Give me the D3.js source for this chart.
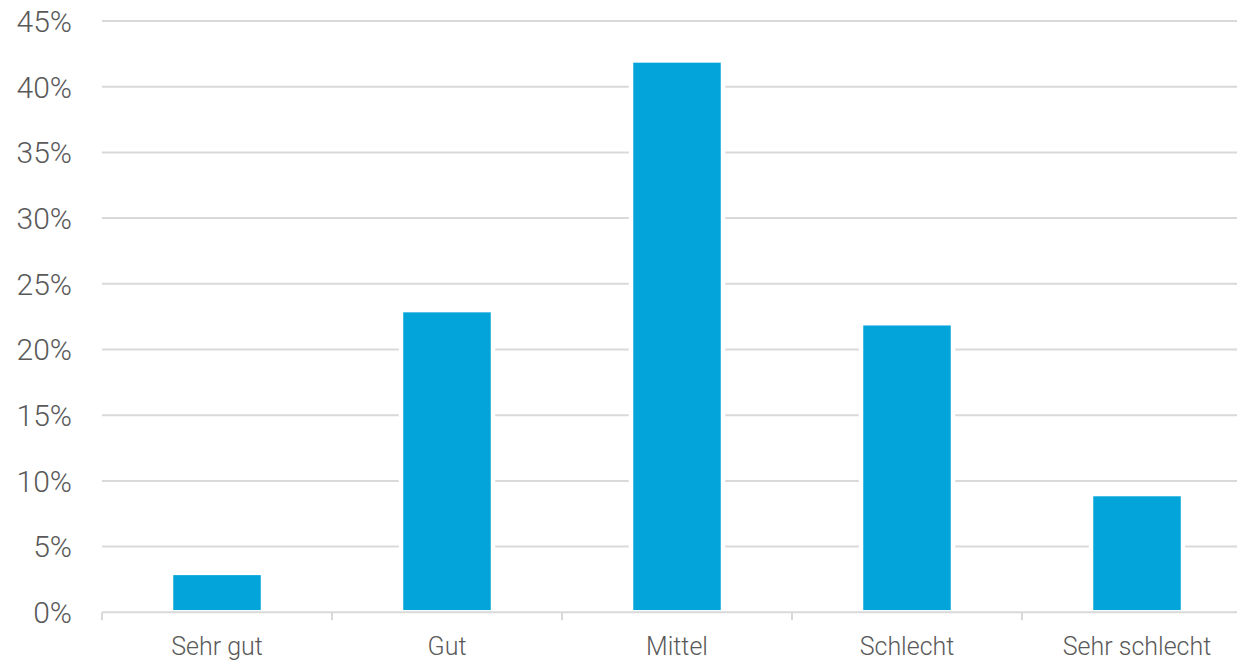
<!DOCTYPE html>
<html>
<head>
<meta charset="utf-8">
<script src="https://cdn.jsdelivr.net/npm/d3@7"></script>
<style>
  html, body { margin: 0; padding: 0; background: #ffffff; }
  svg { display: block; }
  .tick-label { font-family: Roboto, "Open Sans", sans-serif; font-weight: 300; fill: #595959; }
</style>
</head>
<body>
<svg id="chart" width="1237" height="661"></svg>
<script>
// Ratings and their share of responses
const categories = ["Sehr gut", "Gut", "Mittel", "Schlecht", "Sehr schlecht"];
const shares = [3, 23, 42, 22, 9];
const yTicks = [0, 5, 10, 15, 20, 25, 30, 35, 40, 45];

const svg = d3.select("#chart");
const plot = { left: 102, right: 1252, top: 21, bottom: 612.3 };

const x = d3.scaleBand()
  .domain(categories)
  .range([plot.left, plot.right])
  .paddingInner(0.6)
  .paddingOuter(0.3);

const y = d3.scaleLinear()
  .domain([0, 45])
  .range([plot.bottom, plot.top]);

// horizontal gridlines
svg.append("g")
  .selectAll("line")
  .data(yTicks.filter(d => d > 0))
  .join("line")
  .attr("x1", plot.left)
  .attr("x2", plot.right)
  .attr("y1", d => y(d))
  .attr("y2", d => y(d))
  .attr("stroke", "#d9d9d9")
  .attr("stroke-width", 2);

// y tick labels
svg.append("g")
  .selectAll("text")
  .data(yTicks)
  .join("text")
  .attr("class", "tick-label")
  .attr("x", 72)
  .attr("y", d => y(d))
  .attr("dy", "0.36em")
  .attr("text-anchor", "end")
  .style("font-size", "30px")
  .text(d => d + "%");

// bars
svg.append("g")
  .selectAll("rect")
  .data(shares)
  .join("rect")
  .attr("x", (d, i) => x(categories[i]))
  .attr("width", x.bandwidth())
  .attr("y", d => y(d))
  .attr("height", d => y(0) - y(d))
  .attr("fill", "#02a4da")
  .attr("stroke", "#ffffff")
  .attr("stroke-width", 4.5);

// category axis with downward ticks at band boundaries
const xAxis = svg.append("g");
xAxis.append("line")
  .attr("x1", plot.left)
  .attr("x2", plot.right)
  .attr("y1", plot.bottom)
  .attr("y2", plot.bottom)
  .attr("stroke", "#d9d9d9")
  .attr("stroke-width", 2);

xAxis.selectAll("line.tick")
  .data(categories)
  .join("line")
  .attr("class", "tick")
  .attr("x1", d => x(d) - x.step() * x.paddingInner() / 2)
  .attr("x2", d => x(d) - x.step() * x.paddingInner() / 2)
  .attr("y1", plot.bottom)
  .attr("y2", plot.bottom + 8)
  .attr("stroke", "#d9d9d9")
  .attr("stroke-width", 2);

xAxis.selectAll("text")
  .data(categories)
  .join("text")
  .attr("class", "tick-label")
  .attr("x", d => x(d) + x.bandwidth() / 2)
  .attr("y", 655)
  .attr("text-anchor", "middle")
  .style("font-size", "25px")
  .text(d => d);
</script>
</body>
</html>
